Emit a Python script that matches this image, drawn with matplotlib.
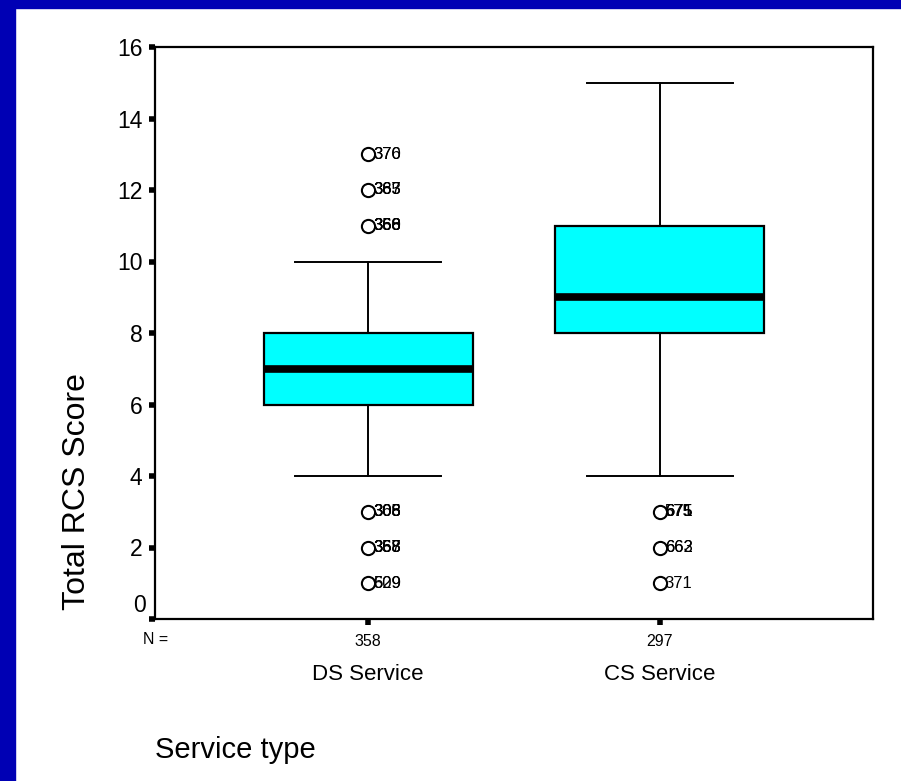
import numpy as np
import matplotlib.pyplot as plt
from matplotlib.patches import Rectangle

# Box plot summary values
groups = ["DS Service", "CS Service"]
counts = [358, 297]
medians = [7, 9]
q1 = [6, 8]
q3 = [8, 11]
whisker_lo = [4, 4]
whisker_hi = [10, 15]

# Outliers and their case labels (many overlap in the original)
ds_outliers = {13: ["370", "376"], 12: ["383", "365", "367"], 11: ["358", "360", "366", "368"],
               3: ["305", "306", "308", "368"], 2: ["355", "358", "367", "368"], 1: ["529", "609"]}
cs_outliers = {3: ["675", "575", "671"], 2: ["662", "663"], 1: ["371"]}
outliers = [ds_outliers, cs_outliers]

y_ticks = [0, 2, 4, 6, 8, 10, 12, 14, 16]

FONT = "Liberation Sans"

fig = plt.figure(figsize=(9.01, 7.81), dpi=100)
fig.patch.set_facecolor("white")
# blue slide border on the left and top
fig.add_artist(Rectangle((0, 0), 15 / 901, 1, transform=fig.transFigure, color="#0000b4", zorder=0))
fig.add_artist(Rectangle((0, 1 - 8 / 781), 1, 8 / 781, transform=fig.transFigure, color="#0000b4", zorder=0))

ax = fig.add_axes([155 / 901, 1 - 619 / 781, 718 / 901, 572 / 781])

stats = []
for i in range(len(groups)):
    fl = list(outliers[i].keys())
    stats.append(dict(med=medians[i], q1=q1[i], q3=q3[i], whislo=whisker_lo[i],
                      whishi=whisker_hi[i], fliers=fl, label=groups[i]))

positions = [1, 2]
ax.bxp(stats, positions=positions, widths=0.716, patch_artist=True, showfliers=True,
       boxprops=dict(facecolor="#00ffff", edgecolor="black", linewidth=1.6),
       medianprops=dict(color="black", linewidth=5.5),
       whiskerprops=dict(color="black", linewidth=1.4),
       capprops=dict(color="black", linewidth=1.4),
       capwidths=0.5,
       flierprops=dict(marker="o", markersize=9.5, markerfacecolor="none",
                       markeredgecolor="black", markeredgewidth=1.5))

for i, pos in enumerate(positions):
    for v, labs in outliers[i].items():
        for lab in labs:
            ax.annotate(lab, (pos, v), xytext=(3.5, 0), textcoords="offset points",
                        va="center", ha="left", fontsize=12, family=FONT)

ax.set_xlim(0.27, 2.73)
ax.set_ylim(0, 16)
ax.set_yticks(y_ticks)
# the zero label sits a bit above its tick in the original, drawn separately below
ax.set_yticklabels(["" if t == 0 else str(t) for t in y_ticks], fontsize=16.5, family=FONT)
ax.annotate("0", (0, 0), xycoords=("axes fraction", "data"), xytext=(-9 * 0.72, 13 * 0.72),
            textcoords="offset points", ha="right", va="center", fontsize=16.5, family=FONT)
ax.set_xticks(positions)
ax.set_xticklabels([])
ax.tick_params(axis="y", length=4, width=4, direction="out", pad=5)
ax.tick_params(axis="x", length=4, width=4, direction="out")
for s in ax.spines.values():
    s.set_linewidth(1.6)

# N = counts row and group names
fig.text(156 / 901, 1 - 640 / 781, "N =", ha="center", va="center", fontsize=11.5, family=FONT)
for pos, n, g in zip(positions, counts, groups):
    ax.annotate(str(n), (pos, 0), xytext=(0, -16), textcoords="offset points",
                ha="center", va="center", fontsize=11.5, family=FONT)
    ax.annotate(g, (pos, 0), xytext=(0, -40), textcoords="offset points",
                ha="center", va="center", fontsize=16, family=FONT)

fig.text(77 / 901, 1 - 492 / 781, "Total RCS Score", rotation=90, ha="center", va="center",
         fontsize=23, family=FONT)
fig.text(155 / 901, 1 - 750 / 781, "Service type", ha="left", va="center",
         fontsize=21, family=FONT)

plt.savefig("out.png", dpi=100)
